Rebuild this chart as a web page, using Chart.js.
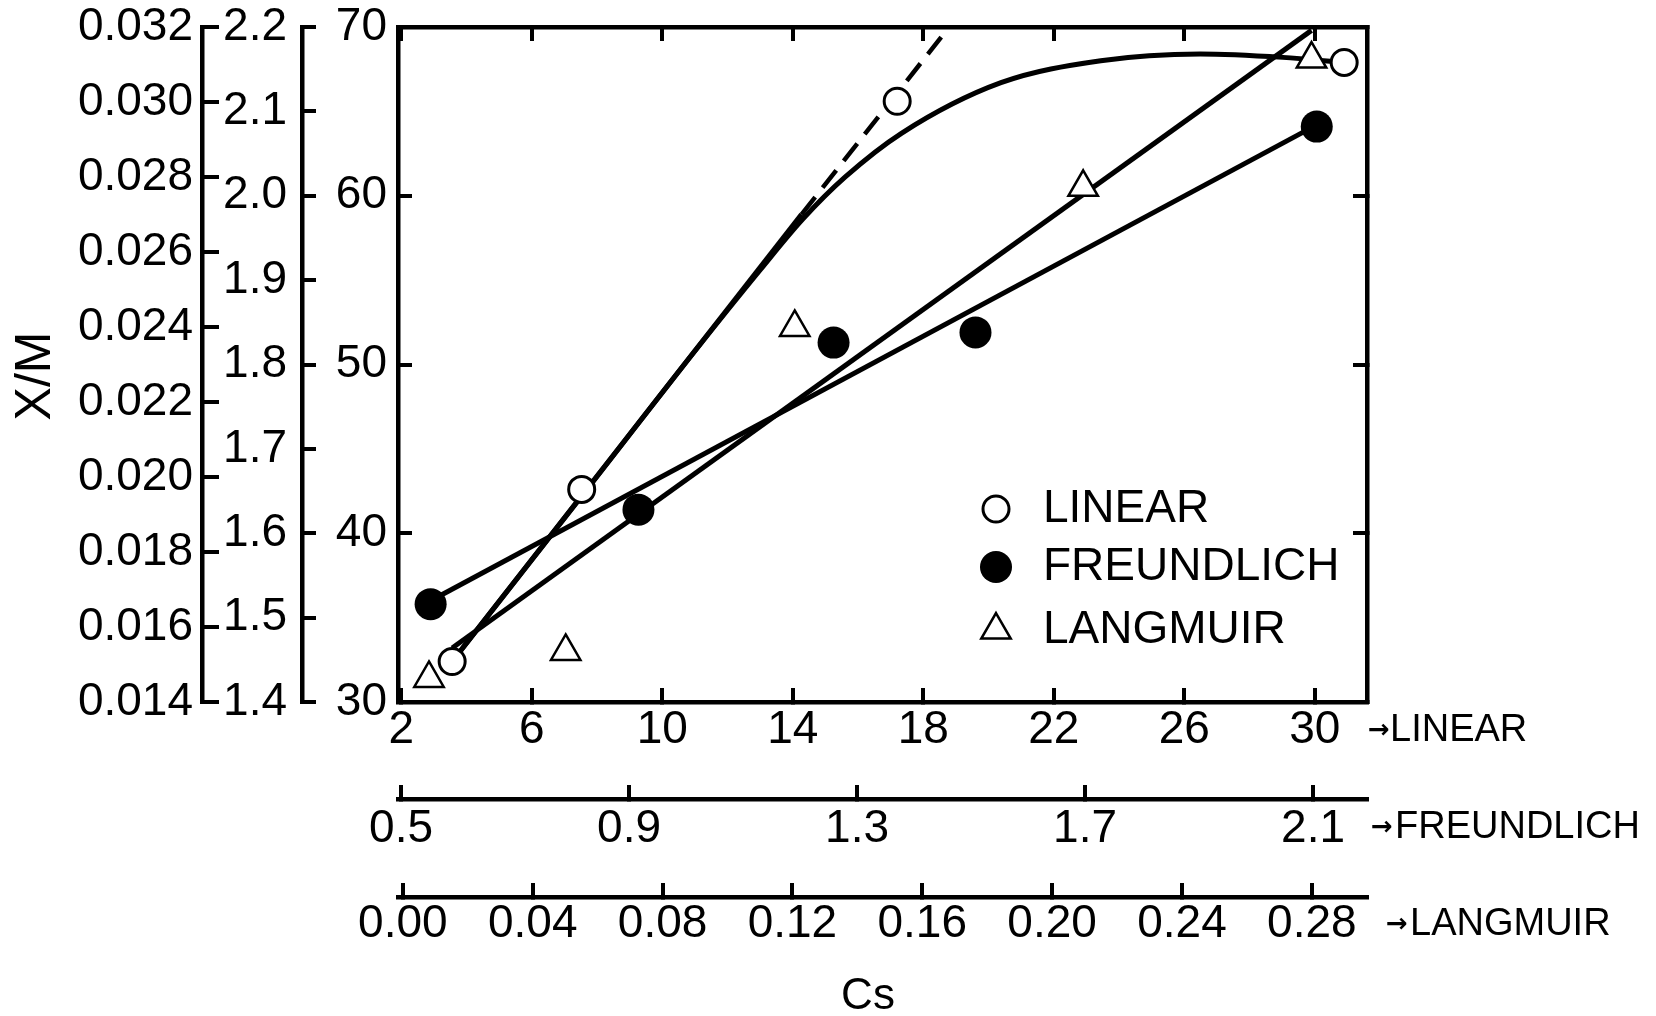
<!DOCTYPE html>
<html>
<head>
<meta charset="utf-8">
<script src="https://cdn.jsdelivr.net/npm/chart.js@4.4.0/dist/chart.umd.min.js"></script>
<style>
  html, body { margin: 0; padding: 0; background: #fff; }
  #wrap { width: 1656px; height: 1016px; }
</style>
</head>
<body>
<div id="wrap"><canvas id="canvas1"></canvas></div>
<script>
// points, in the units of the inner box (LINEAR Cs, X/M 30-70)
var linearCs = [3.56, 7.53, 17.2, 30.9];
var linearXM = [32.4, 42.6, 65.6, 67.9];
var freundCs = [2.9, 9.27, 15.25, 19.6, 30.06];
var freundXM = [35.8, 41.4, 51.3, 51.9, 64.1];
var langCs = [2.85, 7.04, 14.06, 22.9, 29.9];
var langXM = [31.4, 33.0, 52.2, 60.5, 68.1];

// drawn fits
var linFitCs = [3.56, 14.27];
var linFitXM = [32.4, 58.9];
var linExtCs = [14.27, 18.55];
var linExtXM = [58.9, 69.4];
var curveCs = [3.56, 7.53, 11.0, 13.0, 14.3, 15.6, 17.33, 20.38, 23.44, 26.49, 29.02, 30.9];
var curveXM = [32.4, 42.2, 50.8, 55.6, 58.6, 61.1, 63.7, 66.7, 68.0, 68.4, 68.2, 67.9];
var freFitCs = [2.9, 30.06];
var freFitXM = [36.0, 64.2];
var lanFitCs = [3.56, 29.9];
var lanFitXM = [33.2, 69.8];

// axis ticks
var linearTicks = [2, 6, 10, 14, 18, 22, 26, 30];
var freundTicks = [0.5, 0.9, 1.3, 1.7, 2.1];
var langTicks = [0.00, 0.04, 0.08, 0.12, 0.16, 0.20, 0.24, 0.28];
var xmTicks = [30, 40, 50, 60, 70];
var logTicks = [1.4, 1.5, 1.6, 1.7, 1.8, 1.9, 2.0, 2.1, 2.2];
var ratioTicks = [0.014, 0.016, 0.018, 0.020, 0.022, 0.024, 0.026, 0.028, 0.030, 0.032];
var seriesNames = ['LINEAR', 'FREUNDLICH', 'LANGMUIR'];

function pts(xs, ys) {
    return xs.map(function(x, i){ return {x: x, y: ys[i]}; });
}
function fixTicks(list) {
    return function(scale){ scale.ticks = list.map(function(v){ return {value: v}; }); };
}
function fmt(d) {
    return function(v){ return Number(v).toFixed(d); };
}

Chart.defaults.font.family = 'Liberation Sans';
Chart.defaults.color = '#000';
var tickFont = {family: 'Liberation Sans', size: 46};

function hAxis(pos, weight, min, max, list, digits, pad, h, show) {
    return {
        type: 'linear', axis: 'x', position: pos, weight: weight, bounds: 'data',
        min: min, max: max,
        afterBuildTicks: fixTicks(list),
        afterFit: function(s){ s.height = h; s.paddingLeft = 0; s.paddingRight = 0; },
        border: {color: '#000', width: 4.5},
        grid: {drawOnChartArea: false, color: '#000', lineWidth: 4, tickLength: -14},
        ticks: {display: show, color: '#000', font: tickFont, padding: pad, autoSkip: false,
                maxRotation: 0, minRotation: 0, callback: fmt(digits)}
    };
}
function vAxis(pos, weight, min, max, list, digits, pad, w, tl, show) {
    return {
        type: 'linear', axis: 'y', position: pos, weight: weight, bounds: 'data',
        min: min, max: max,
        afterBuildTicks: fixTicks(list),
        afterFit: function(s){ s.width = w; s.paddingTop = 0; s.paddingBottom = 0; },
        border: {color: '#000', width: 4.5},
        grid: {drawOnChartArea: false, color: '#000', lineWidth: 4, tickLength: tl},
        ticks: {display: show, color: '#000', font: tickFont, padding: pad, autoSkip: false,
                callback: fmt(digits)}
    };
}

// text that is not tied to a tick: legend, axis names
var notes = {
    id: 'notes',
    afterDraw: function(chart) {
        var ctx = chart.ctx;
        var a = chart.chartArea;
        ctx.save();
        ctx.fillStyle = '#000';
        ctx.strokeStyle = '#000';

        // legend inside the box
        var mx = a.left + 598, tx = a.left + 645;
        var rows = [a.top + 482, a.top + 540, a.top + 603];
        var styles = [
            {pointStyle: 'circle', radius: 13, borderWidth: 3, fill: '#fff'},
            {pointStyle: 'circle', radius: 16, borderWidth: 0, fill: '#000'},
            {pointStyle: 'triangle', radius: 17, borderWidth: 2.5, fill: '#fff'}
        ];
        for (var i = 0; i < 3; i++) {
            ctx.fillStyle = styles[i].fill;
            ctx.lineWidth = styles[i].borderWidth;
            Chart.helpers.drawPoint(ctx, {pointStyle: styles[i].pointStyle, radius: styles[i].radius,
                borderWidth: styles[i].borderWidth, rotation: 0}, mx, rows[i]);
            ctx.fillStyle = '#000';
            ctx.font = '46px "Liberation Sans"';
            ctx.textAlign = 'left';
            ctx.textBaseline = 'middle';
            ctx.fillText(seriesNames[i], tx, rows[i]);
        }

        // names at the right end of the three Cs axes
        var sx = chart.scales.x, s2 = chart.scales.x2, s3 = chart.scales.x3;
        var tags = [
            {y: sx.top + 29, ax: 1368, tx: 1390},
            {y: s2.top + 29, ax: 1371, tx: 1395},
            {y: s3.top + 28, ax: 1386, tx: 1410}
        ];
        for (var j = 0; j < 3; j++) {
            ctx.textBaseline = 'middle';
            ctx.textAlign = 'left';
            ctx.font = 'bold 26px "DejaVu Sans"';
            ctx.fillText('\u2192', tags[j].ax, tags[j].y);
            ctx.font = '38px "Liberation Sans"';
            ctx.fillText(seriesNames[j], tags[j].tx, tags[j].y);
        }

        // Cs
        ctx.font = '44px "Liberation Sans"';
        ctx.textAlign = 'center';
        ctx.textBaseline = 'alphabetic';
        ctx.fillText('Cs', 868, 1009);

        // X/M
        ctx.translate(50, 376);
        ctx.rotate(-Math.PI / 2);
        ctx.font = '50px "Liberation Sans"';
        ctx.textAlign = 'center';
        ctx.textBaseline = 'alphabetic';
        ctx.fillText('X/M', 0, 0);
        ctx.restore();
    }
};

function lineSet(xs, ys, extra) {
    var d = {
        data: pts(xs, ys), showLine: true, pointRadius: 0, borderColor: '#000',
        borderWidth: 5, backgroundColor: '#000', fill: false, clip: false
    };
    for (var k in extra) d[k] = extra[k];
    return d;
}

const ctx = document.getElementById('canvas1').getContext('2d');
const myChart = new Chart(ctx, {
    type: 'scatter',
    data: {
        datasets: [
            {label: 'LINEAR', data: pts(linearCs, linearXM), pointStyle: 'circle', pointRadius: 13,
             pointBorderWidth: 3, pointBorderColor: '#000', pointBackgroundColor: '#fff', clip: false},
            {label: 'FREUNDLICH', data: pts(freundCs, freundXM), pointStyle: 'circle', pointRadius: 16,
             pointBorderWidth: 0, pointBackgroundColor: '#000', clip: false},
            {label: 'LANGMUIR', data: pts(langCs, langXM), pointStyle: 'triangle', pointRadius: 17,
             pointBorderWidth: 2.5, pointBorderColor: '#000', pointBackgroundColor: '#fff', clip: false},
            lineSet(linFitCs, linFitXM, {}),
            lineSet(linExtCs, linExtXM, {borderDash: [22, 12], borderWidth: 4.5}),
            lineSet(curveCs, curveXM, {cubicInterpolationMode: 'monotone'}),
            lineSet(freFitCs, freFitXM, {}),
            lineSet(lanFitCs, lanFitXM, {})
        ]
    },
    options: {
        responsive: true,
        maintainAspectRatio: false,
        animation: false,
        events: [],
        layout: {padding: {left: 0, top: 27, right: 289, bottom: 0}},
        plugins: {legend: {display: false}, tooltip: {enabled: false}},
        scales: {
            x: hAxis('bottom', 0, 1.9, 31.6, linearTicks, 0, 15, 97, true),
            x2: hAxis('bottom', 1, 0.4947, 2.1947, freundTicks, 1, 17, 98, true),
            x3: hAxis('bottom', 2, -0.0015, 0.297, langTicks, 2, 14, 119, true),
            xt: hAxis('top', 0, 1.9, 31.6, linearTicks, 0, 0, 0, false),
            y: vAxis('left', 0, 30, 70, xmTicks, 0, 25, 96, -14, true),
            y2: vAxis('left', 1, 1.4, 2.2, logTicks, 1, 29, 100, -14, true),
            y3: vAxis('left', 2, 0.014, 0.032, ratioTicks, 3, 26, 202, -17, true),
            yr: vAxis('right', 0, 30, 70, xmTicks, 0, 0, 0, -14, false)
        }
    },
    plugins: [notes]
});
</script>
</body>
</html>
